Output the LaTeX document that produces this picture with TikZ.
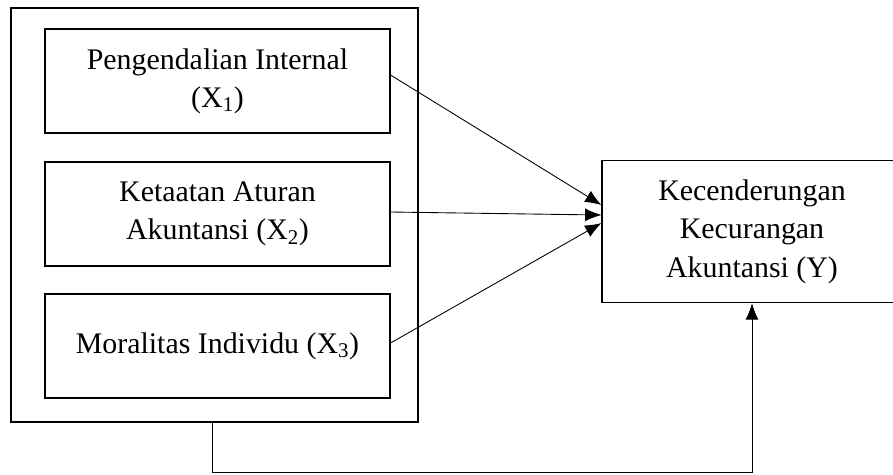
\documentclass[tikz,border=0pt]{standalone}
\usepackage{fontspec}
\setmainfont{Liberation Serif}
\usetikzlibrary{arrows.meta,positioning}
\tikzstyle{varblk}=[rectangle, draw=black, line width=0.9pt, align=center,
inner sep=0pt, minimum width=10.35cm, minimum height=3.12cm,
font=\fontsize{25.5}{32.7}\selectfont]
\tikzstyle{grpblk}=[rectangle, draw=black, line width=1.3pt, inner sep=0pt,
minimum width=12.21cm, minimum height=12.42cm]
\tikzstyle{dgraph}=[-{Latex[length=14pt,width=11pt]}, line width=0.75pt]

\begin{document}
\begin{tikzpicture}[x=0.03cm, y=-0.03cm]
\useasboundingbox (0,0) rectangle (893,474);
\node[grpblk] (grp) at (214.5,215) {};
\node[varblk] (x1) at (217.5,81) {Pengendalian Internal\\(X\textsubscript{1})};
\node[varblk] (x2) at (217.5,214) {Ketaatan Aturan\\Akuntansi (X\textsubscript{2})};
\node[varblk] (x3) at (217.5,346) {Moralitas Individu (X\textsubscript{3})};
\node[varblk, minimum width=9cm, minimum height=4.26cm] (yv) at (752,231.7)
  {Kecenderungan\\Kecurangan\\Akuntansi (Y)};
\draw [dgraph] ([yshift=0.18cm]x1.east) -- ([yshift=0.8cm]yv.west);
\draw [dgraph] ([yshift=0.06cm]x2.east) -- ([yshift=0.5cm]yv.west);
\draw [dgraph] ([yshift=0.09cm]x3.east) -- ([yshift=0.26cm]yv.west);
\draw [dgraph] ([xshift=-0.07cm]grp.south) -- ++(0,50) -| (yv.south);
\end{tikzpicture}
\end{document}
